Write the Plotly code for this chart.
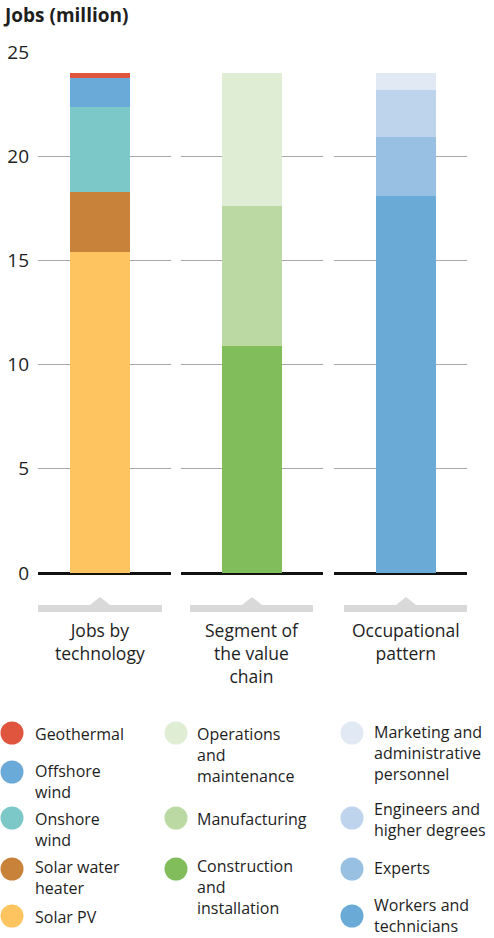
import plotly.graph_objects as go

# data (million jobs), bottom-to-top stacking order
groups = ["Jobs by<br>technology", "Segment of<br>the value<br>chain", "Occupational<br>pattern"]

tech_names = ["Solar PV", "Solar water<br>heater", "Onshore<br>wind", "Offshore<br>wind", "Geothermal"]
tech_values = [15.4, 2.9, 4.05, 1.4, 0.25]
tech_colors = ["#fdc45f", "#c9823a", "#7cc8c9", "#6aaad8", "#e0553e"]

chain_names = ["Construction<br>and<br>installation", "Manufacturing", "Operations<br>and<br>maintenance"]
chain_values = [10.9, 6.7, 6.4]
chain_colors = ["#82bd5b", "#bbd9a2", "#dfedd5"]

occ_names = ["Workers and<br>technicians", "Experts", "Engineers and<br>higher degrees",
             "Marketing and<br>administrative<br>personnel"]
occ_values = [18.1, 2.8, 2.3, 0.8]
occ_colors = ["#6aaad7", "#98c0e3", "#bed3ec", "#e0e9f4"]

y_ticks = [0, 5, 10, 15, 20, 25]

FONT = "Open Sans"
W, H = 494, 938
L, R, T, B = 38, 467, 52, 573   # plot area in pixels


def px_x(p):
    return (p - L) / (R - L)


def px_y(p):
    return (B - p) / (B - T)


# each group: segment extent (px), bar centre (px)
segments = [(38, 171), (181, 323), (334, 467)]
centres = [100, 252, 406]
brackets = [(38, 162), (190, 313), (344, 467)]
bar_px = 60

series = [
    (tech_names, tech_values, tech_colors),
    (chain_names, chain_values, chain_colors),
    (occ_names, occ_values, occ_colors),
]

fig = go.Figure()
axis_ids = ["x", "x2", "x3"]
for i, (names, values, colors) in enumerate(series):
    for name, val, col in zip(names, values, colors):
        fig.add_trace(go.Bar(
            x=[groups[i]], y=[val], name=name.replace("<br>", " "),
            marker_color=col, marker_line_width=0,
            width=bar_px / (segments[i][1] - segments[i][0]),
            xaxis=axis_ids[i], yaxis="y", showlegend=False,
            hovertemplate="%{y} million<extra>" + name.replace("<br>", " ") + "</extra>",
        ))

layout_axes = {}
for i, (s0, s1) in enumerate(segments):
    f = (centres[i] - s0) / (s1 - s0)
    key = "xaxis" if i == 0 else f"xaxis{i + 1}"
    layout_axes[key] = dict(
        domain=[px_x(s0), px_x(s1)], range=[-f, 1 - f],
        showticklabels=False, showgrid=False, zeroline=False, showline=False,
        anchor="y", fixedrange=True,
    )

fig.update_layout(
    width=W, height=H, autosize=False,
    margin=dict(l=L, r=W - R, t=T, b=H - B, autoexpand=False),
    paper_bgcolor="white", plot_bgcolor="white",
    barmode="stack", bargap=0,
    font=dict(family=FONT, color="#1e1e1e"),
    yaxis=dict(
        range=[0, 25], tickvals=y_ticks, showgrid=True, gridcolor="#a8a8a8", gridwidth=1,
        zeroline=True, zerolinecolor="#111111", zerolinewidth=2.5, showline=False,
        ticks="", ticklabelstandoff=8, tickfont=dict(size=19, family=FONT, color="#1e1e1e"),
        fixedrange=True, automargin=False,
    ),
    **layout_axes,
)

shapes = []
annotations = []

# axis title
annotations.append(dict(
    text="<b>Jobs (million)</b>", x=px_x(1), y=px_y(15), xref="paper", yref="paper",
    xanchor="left", yanchor="middle", showarrow=False, font=dict(size=19, family=FONT, color="#1e1e1e"),
))

# grey brackets under each group
for (b0, b1), c in zip(brackets, centres):
    pts = [(b0, 605), (c - 10, 605), (c, 597), (c + 10, 605), (b1, 605), (b1, 612), (b0, 612)]
    path = "M " + " L ".join(f"{px_x(x):.5f},{px_y(y):.5f}" for x, y in pts) + " Z"
    shapes.append(dict(type="path", path=path, xref="paper", yref="paper",
                       fillcolor="#d9d9d9", line=dict(width=0), layer="below"))

# group labels centred under each bar
CAT = 17.5
for i, g in enumerate(groups):
    annotations.append(dict(
        text=g, x=groups[i], xref=axis_ids[i], y=px_y(628 - 0.65 * CAT - 1), yref="paper",
        xanchor="center", yanchor="top", showarrow=False, align="center",
        font=dict(size=CAT, family=FONT, color="#1e1e1e"),
    ))

# legend: three columns, top-to-bottom is reverse of stack order
LEG = 16
legend_cols = [
    (12, 34, [(733, 733), (772, 770), (818, 818), (869, 866), (916, 916)]),
    (176, 196, [(733, 733), (818, 818), (869, 865)]),
    (352, 373, [(733, 731), (818, 808), (869, 867), (916, 904)]),
]
for (names, values, colors), (cx, tx, pos) in zip(series, legend_cols):
    for name, col, (cy, ty) in zip(names[::-1], colors[::-1], pos):
        r = 11.5
        shapes.append(dict(type="circle", xref="paper", yref="paper",
                           x0=px_x(cx - r), x1=px_x(cx + r), y0=px_y(cy + r), y1=px_y(cy - r),
                           fillcolor=col, line=dict(width=0)))
        annotations.append(dict(
            text=name, x=px_x(tx), y=px_y(ty - 0.65 * LEG - 1), xref="paper", yref="paper",
            xanchor="left", yanchor="top", showarrow=False, align="left", borderpad=0,
            font=dict(size=LEG, family=FONT, color="#1e1e1e"),
        ))

fig.update_layout(shapes=shapes, annotations=annotations)

fig.write_html("out.html", config={"displayModeBar": False},
               post_script="document.body.style.margin='0';")
